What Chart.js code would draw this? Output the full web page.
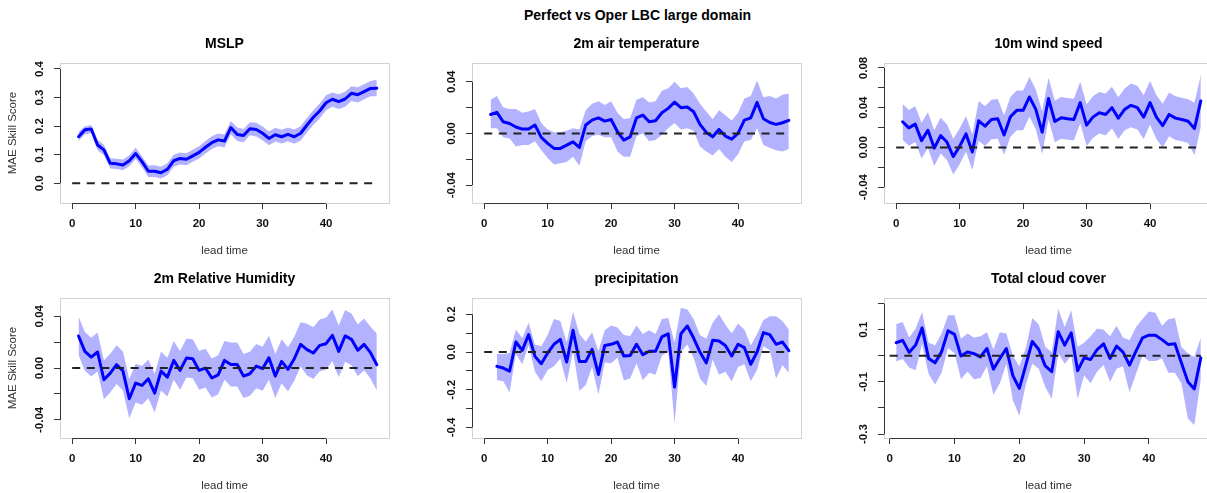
<!DOCTYPE html>
<html>
<head>
<meta charset="utf-8">
<title>Perfect vs Oper LBC large domain</title>
<script src="https://cdn.jsdelivr.net/npm/chart.js@4/dist/chart.umd.min.js"></script>
<style>
  html, body { margin: 0; padding: 0; background: #fff; overflow: hidden; }
  body { width: 1207px; height: 493px; position: relative; }
  #main-title {
    position: absolute; top: 7px; left: 0; width: 1275px; text-align: center;
    font: bold 14px "Liberation Sans", Arial, sans-serif; line-height: 16px; color: #000;
  }
  .panel { position: absolute; }
</style>
</head>
<body>
<div id="main-title">Perfect vs Oper LBC large domain</div>
<script>
// ---- data ----
const leadTime = [1,2,3,4,5,6,7,8,9,10,11,12,13,14,15,16,17,18,19,20,21,22,23,24,
                  25,26,27,28,29,30,31,32,33,34,35,36,37,38,39,40,41,42,43,44,45,46,47,48];
const precipTime = leadTime.slice(1);   // precipitation starts at lead time 2

const zeroLineX = [0, 48];
const zeroLineY = [0, 0];

const mslpMean  = [0.163,0.187,0.19,0.134,0.117,0.07,0.068,0.064,0.079,0.104,
                   0.076,0.042,0.042,0.037,0.049,0.079,0.087,0.084,0.096,0.108,
                   0.126,0.142,0.152,0.148,0.195,0.171,0.167,0.191,0.188,0.175,
                   0.157,0.17,0.163,0.171,0.163,0.175,0.204,0.231,0.253,0.282,
                   0.294,0.286,0.295,0.315,0.31,0.321,0.332,0.333];
const mslpUpper = [0.18,0.2,0.204,0.152,0.135,0.088,0.086,0.083,0.098,0.124,
                   0.095,0.062,0.063,0.058,0.07,0.1,0.108,0.105,0.117,0.13,
                   0.148,0.165,0.174,0.171,0.218,0.195,0.19,0.214,0.212,0.199,
                   0.181,0.194,0.187,0.195,0.188,0.2,0.229,0.256,0.279,0.308,
                   0.318,0.312,0.32,0.34,0.336,0.347,0.358,0.362];
const mslpLower = [0.148,0.172,0.175,0.116,0.098,0.052,0.05,0.046,0.06,0.085,
                   0.057,0.022,0.022,0.017,0.028,0.058,0.066,0.063,0.075,0.087,
                   0.104,0.12,0.13,0.126,0.172,0.148,0.144,0.168,0.164,0.151,
                   0.133,0.146,0.139,0.147,0.138,0.15,0.178,0.205,0.227,0.256,
                   0.268,0.26,0.268,0.288,0.283,0.294,0.305,0.305];

const t2mMean  = [0.0147,0.0163,0.009,0.0077,0.005,0.0034,0.0034,0.0065,-0.003,-0.0077,
                  -0.0116,-0.0116,-0.009,-0.0065,-0.0108,0.0065,0.0103,0.012,0.0095,0.0108,
                  0.0013,-0.0052,-0.0026,0.012,0.0142,0.009,0.0098,0.016,0.0194,0.0243,
                  0.0199,0.0204,0.0168,0.007,0.0008,-0.0026,0.0031,-0.002,-0.0044,0.0,
                  0.0103,0.012,0.024,0.0114,0.0085,0.007,0.0083,0.0101];
const t2mUpper = [0.026,0.029,0.020,0.019,0.019,0.016,0.017,0.019,0.008,0.003,
                  0.001,0.001,0.002,0.004,0.003,0.018,0.023,0.025,0.022,0.025,
                  0.016,0.011,0.012,0.026,0.028,0.024,0.025,0.033,0.035,0.040,
                  0.035,0.036,0.031,0.023,0.017,0.011,0.018,0.014,0.010,0.016,
                  0.027,0.029,0.041,0.028,0.029,0.027,0.030,0.031];
const t2mLower = [0.004,0.004,-0.003,-0.004,-0.010,-0.009,-0.009,-0.006,-0.013,-0.019,
                  -0.024,-0.023,-0.022,-0.018,-0.025,-0.006,-0.002,-0.001,-0.003,-0.003,
                  -0.014,-0.018,-0.018,-0.002,0.000,-0.006,-0.005,-0.001,0.004,0.008,
                  0.003,0.004,0.002,-0.010,-0.014,-0.017,-0.012,-0.018,-0.022,-0.016,
                  -0.006,-0.005,0.004,-0.009,-0.011,-0.013,-0.014,-0.012];

const ws10Mean  = [0.0258,0.0197,0.0234,0.0068,0.0173,-0.0007,0.0119,0.0054,-0.0092,0.001,
                   0.0136,-0.0047,0.0268,0.0214,0.0281,0.0288,0.0125,0.0308,0.0373,0.0373,
                   0.0508,0.0383,0.0153,0.0492,0.0261,0.0298,0.0288,0.0281,0.0451,0.0224,
                   0.0305,0.0349,0.0332,0.04,0.0295,0.0383,0.0424,0.04,0.0305,0.0451,
                   0.0305,0.022,0.0332,0.0295,0.0281,0.0264,0.019,0.0468];
const ws10Upper = [0.0438,0.0377,0.0414,0.0248,0.0353,0.0173,0.0299,0.0234,0.0088,0.019,
                   0.0316,0.0133,0.0468,0.0414,0.0481,0.0488,0.0325,0.0508,0.0573,0.0573,
                   0.0708,0.0583,0.0363,0.0702,0.0471,0.0508,0.0498,0.0491,0.0661,0.0434,
                   0.0515,0.0559,0.0542,0.061,0.0505,0.0593,0.0644,0.062,0.0525,0.0671,
                   0.0525,0.044,0.0552,0.0515,0.0501,0.0484,0.045,0.0728];
const ws10Lower = [0.0078,0.0017,0.0054,-0.0112,-0.0007,-0.0187,-0.0061,-0.0126,-0.0272,-0.017,
                   -0.0044,-0.0227,0.0068,0.0014,0.0081,0.0088,-0.0075,0.0108,0.0173,0.0173,
                   0.0308,0.0183,-0.0067,0.0282,0.0051,0.0088,0.0078,0.0071,0.0241,0.0014,
                   0.0095,0.0139,0.0122,0.019,0.0085,0.0173,0.0204,0.018,0.0085,0.0231,
                   0.0085,0.0,0.0112,0.0075,0.0061,0.0044,-0.008,0.0208];

const rh2mMean  = [0.0248,0.0129,0.0085,0.0124,-0.009,-0.0039,0.0026,-0.0023,-0.0237,-0.0116,
                   -0.0134,-0.0083,-0.0194,-0.0023,-0.007,0.0059,-0.0018,0.0077,0.0072,-0.0018,
                   0.0,-0.0077,-0.0052,0.0059,0.0028,0.0028,-0.0062,-0.0044,0.0015,-0.0005,
                   0.008,-0.0062,0.0052,-0.001,0.0072,0.0183,0.0142,0.0116,0.0175,0.0188,
                   0.0253,0.0129,0.0248,0.0222,0.0137,0.0183,0.0119,0.0026];
const rh2mUpper = [0.0398,0.0279,0.0235,0.0274,0.006,0.0111,0.0176,0.0127,-0.0087,0.0034,
                   0.0016,0.0067,-0.0044,0.0127,0.008,0.0209,0.0132,0.0227,0.0222,0.0132,
                   0.015,0.0073,0.0098,0.0209,0.0198,0.0198,0.0108,0.0126,0.0185,0.0165,
                   0.025,0.0108,0.0222,0.016,0.0242,0.0353,0.0342,0.0316,0.0375,0.0388,
                   0.0453,0.0329,0.0448,0.0422,0.0337,0.0383,0.0319,0.0266];
const rh2mLower = [0.0098,-0.0021,-0.0065,-0.0026,-0.024,-0.0189,-0.0124,-0.0173,-0.0387,-0.0266,
                   -0.0284,-0.0233,-0.0344,-0.0173,-0.022,-0.0091,-0.0168,-0.0073,-0.0078,-0.0168,
                   -0.015,-0.0227,-0.0202,-0.0091,-0.0142,-0.0142,-0.0232,-0.0214,-0.0155,-0.0175,
                   -0.009,-0.0232,-0.0118,-0.018,-0.0098,0.0013,-0.0058,-0.0084,-0.0025,-0.0012,
                   0.0053,-0.0071,0.0048,0.0022,-0.0063,-0.0017,-0.0081,-0.0174];

const precipMean  = [-0.076,-0.085,-0.101,0.053,0.009,0.092,-0.023,-0.062,-0.005,0.041,
                     0.067,-0.053,0.115,-0.05,-0.05,0.014,-0.119,0.035,0.041,0.053,
                     -0.021,-0.018,0.041,-0.014,0.004,0.004,0.08,0.096,-0.186,0.097,
                     0.138,0.074,0.0,-0.058,0.062,0.058,0.035,-0.021,0.041,0.023,
                     -0.065,0.0,0.103,0.092,0.041,0.053,0.007];
const precipUpper = [-0.01,-0.01,-0.005,0.12,0.075,0.155,0.04,0.03,0.09,0.175,
                     0.165,0.05,0.215,0.095,0.055,0.105,0.005,0.115,0.14,0.13,
                     0.09,0.085,0.14,0.095,0.115,0.095,0.175,0.18,0.05,0.235,
                     0.225,0.175,0.09,0.07,0.155,0.2,0.145,0.1,0.15,0.12,
                     0.035,0.095,0.17,0.19,0.19,0.165,0.12];
const precipLower = [-0.15,-0.155,-0.215,-0.01,-0.065,0.035,-0.105,-0.155,-0.095,-0.075,
                     -0.035,-0.165,0.005,-0.205,-0.175,-0.08,-0.225,-0.055,-0.06,-0.03,
                     -0.15,-0.14,-0.06,-0.15,-0.11,-0.12,-0.02,0.005,-0.38,0.0,
                     0.04,-0.03,-0.14,-0.18,-0.04,-0.12,-0.105,-0.155,-0.08,-0.065,
                     -0.155,-0.095,0.03,0.01,-0.14,-0.07,-0.11];

const tccMean  = [0.05,0.059,0.013,0.041,0.107,-0.01,-0.027,0.015,0.096,0.082,
                  -0.001,0.015,0.008,-0.004,0.028,-0.051,-0.01,0.028,-0.076,-0.125,
                  -0.036,0.055,0.024,-0.039,-0.061,0.092,0.041,0.088,-0.057,-0.008,
                  -0.014,0.024,0.046,-0.01,0.037,0.014,-0.036,0.018,0.069,0.079,
                  0.079,0.062,0.043,0.046,-0.027,-0.099,-0.127,-0.008];
const tccUpper = [0.122,0.13,0.07,0.105,0.168,0.05,0.04,0.085,0.155,0.155,
                  0.065,0.085,0.07,0.075,0.09,0.025,0.09,0.085,0.0,-0.04,
                  0.03,0.145,0.12,0.035,0.015,0.18,0.11,0.175,0.035,0.05,
                  0.075,0.105,0.1,0.075,0.115,0.07,0.06,0.11,0.14,0.17,
                  0.165,0.115,0.14,0.145,0.035,0.01,-0.005,0.07];
const tccLower = [-0.022,-0.012,-0.045,-0.055,0.045,-0.07,-0.11,-0.065,0.03,0.01,
                  -0.09,-0.06,-0.09,-0.085,-0.04,-0.15,-0.105,-0.03,-0.17,-0.23,
                  -0.11,-0.03,-0.05,-0.12,-0.165,0.01,-0.03,0.0,-0.165,-0.075,
                  -0.105,-0.06,-0.035,-0.1,-0.05,-0.04,-0.14,-0.07,0.0,-0.02,
                  -0.02,-0.01,-0.065,-0.065,-0.105,-0.24,-0.265,-0.09];

// tick values and labels
const xTicks = [0, 10, 20, 30, 40];
const xTickLabels = ['0', '10', '20', '30', '40'];
const mslpTicks = [0, 0.1, 0.2, 0.3, 0.4];
const mslpTickLabels = ['0.0', '0.1', '0.2', '0.3', '0.4'];
const t2mTicks = [-0.04, -0.02, 0, 0.02, 0.04];
const t2mTickLabels = ['-0.04', '', '0.00', '', '0.04'];
const ws10Ticks = [-0.04, -0.02, 0, 0.02, 0.04, 0.06, 0.08];
const ws10TickLabels = ['-0.04', '', '0.00', '', '0.04', '', '0.08'];
const rh2mTicks = [-0.04, -0.02, 0, 0.02, 0.04];
const rh2mTickLabels = ['-0.04', '', '0.00', '', '0.04'];
const precipTicks = [-0.4, -0.3, -0.2, -0.1, 0, 0.1, 0.2];
const precipTickLabels = ['-0.4', '', '-0.2', '', '0.0', '', '0.2'];
const tccTicks = [-0.3, -0.2, -0.1, 0, 0.1, 0.2];
const tccTickLabels = ['-0.3', '', '-0.1', '', '0.1', ''];

// ---- layout ----
const FONT = '"Liberation Sans", Arial, Helvetica, sans-serif';
const colLeft = [60, 472, 884];
const rowTop = [63, 298];
const plotW = 329, plotH = 140;
const axisW = 60, titleH = 33, xAxisH = 59, padRight = 5;

const panels = [
  {title: 'MSLP', row: 0, col: 0, x: leadTime, mean: mslpMean, upper: mslpUpper, lower: mslpLower,
   yTicks: mslpTicks, yLabels: mslpTickLabels, yMin: -0.069, yMax: 0.421, xMin: -1.92, xMax: 49.92, yTitle: true},
  {title: '2m air temperature', row: 0, col: 1, x: leadTime, mean: t2mMean, upper: t2mUpper, lower: t2mLower,
   yTicks: t2mTicks, yLabels: t2mTickLabels, yMin: -0.0538, yMax: 0.0545, xMin: -1.92, xMax: 49.92},
  {title: '10m wind speed', row: 0, col: 2, x: leadTime, mean: ws10Mean, upper: ws10Upper, lower: ws10Lower,
   yTicks: ws10Ticks, yLabels: ws10TickLabels, yMin: -0.056, yMax: 0.085, xMin: -1.92, xMax: 49.92},
  {title: '2m Relative Humidity', row: 1, col: 0, x: leadTime, mean: rh2mMean, upper: rh2mUpper, lower: rh2mLower,
   yTicks: rh2mTicks, yLabels: rh2mTickLabels, yMin: -0.054, yMax: 0.0541, xMin: -1.92, xMax: 49.92, yTitle: true},
  {title: 'precipitation', row: 1, col: 1, x: precipTime, mean: precipMean, upper: precipUpper, lower: precipLower,
   yTicks: precipTicks, yLabels: precipTickLabels, yMin: -0.456, yMax: 0.2865, xMin: -1.92, xMax: 49.92},
  {title: 'Total cloud cover', row: 1, col: 2, x: leadTime, mean: tccMean, upper: tccUpper, lower: tccLower,
   yTicks: tccTicks, yLabels: tccTickLabels, yMin: -0.315, yMax: 0.2215, xMin: -0.88, xMax: 49.88}
];

// light grey plot box plus R-style axis lines running first tick to last tick
const rFrame = {
  id: 'rFrame',
  beforeDatasetsDraw(chart) {
    const {ctx, chartArea: a} = chart;
    ctx.save();
    ctx.lineWidth = 1;
    ctx.strokeStyle = '#d2d2d2';
    ctx.strokeRect(Math.round(a.left) + 0.5, Math.round(a.top) + 0.5, Math.round(a.width), Math.round(a.height));
    ctx.restore();
  },
  afterDraw(chart) {
    const {ctx, chartArea: a, scales: {x, y}} = chart;
    const xt = x.ticks, yt = y.ticks;
    const by = Math.round(a.bottom) + 0.5, lx = Math.round(a.left) + 0.5;
    ctx.save();
    ctx.lineWidth = 1;
    ctx.strokeStyle = '#333';
    ctx.beginPath();
    ctx.moveTo(x.getPixelForValue(xt[0].value), by);
    ctx.lineTo(x.getPixelForValue(xt[xt.length - 1].value), by);
    ctx.moveTo(lx, y.getPixelForValue(yt[0].value));
    ctx.lineTo(lx, y.getPixelForValue(yt[yt.length - 1].value));
    ctx.stroke();
    ctx.restore();
  }
};

const measureCtx = document.createElement('canvas').getContext('2d');
function yLabelPad(labels) {
  measureCtx.font = 'bold 11.5px ' + FONT;
  const w = Math.max(...labels.map(l => measureCtx.measureText(l).width));
  return 14.5 - w / 2;
}

const pts = (xs, ys) => ys.map((v, i) => ({x: xs[i], y: v}));

function makePanel(p) {
  const wrap = document.createElement('div');
  wrap.className = 'panel';
  wrap.style.left = (colLeft[p.col] - axisW) + 'px';
  wrap.style.top = (rowTop[p.row] - titleH) + 'px';
  const canvas = document.createElement('canvas');
  canvas.width = axisW + plotW + padRight;
  canvas.height = titleH + plotH + xAxisH;
  wrap.appendChild(canvas);
  document.body.appendChild(wrap);

  const tickFont = {family: FONT, size: 11.5, weight: 'bold'};
  const labelFont = {family: FONT, size: 11.5, weight: 'normal'};

  return new Chart(canvas, {
    type: 'line',
    data: {
      datasets: [
        {data: pts(zeroLineX, zeroLineY), borderColor: '#222', borderWidth: 2, borderDash: [8, 6.6],
         pointRadius: 0, fill: false},
        {data: pts(p.x, p.mean), borderColor: '#0000ff', borderWidth: 3, pointRadius: 0, fill: false,
         borderJoinStyle: 'round', borderCapStyle: 'round'},
        {data: pts(p.x, p.lower), borderColor: 'transparent', borderWidth: 0, pointRadius: 0, fill: false},
        {data: pts(p.x, p.upper), borderColor: 'transparent', borderWidth: 0, pointRadius: 0,
         fill: '-1', backgroundColor: 'rgba(0, 0, 255, 0.3)'}
      ]
    },
    options: {
      responsive: false,
      animation: false,
      events: [],
      layout: {padding: {left: 0, right: padRight, top: 0, bottom: 0}},
      plugins: {
        legend: {display: false},
        tooltip: {enabled: false},
        title: {
          display: true, text: p.title, fullSize: false, color: '#000',
          font: {family: FONT, size: 14, weight: 'bold'},
          padding: {top: 5.3, bottom: 10.9}
        }
      },
      scales: {
        x: {
          type: 'linear', bounds: 'data', min: p.xMin, max: p.xMax,
          afterFit: s => { s.height = xAxisH; },
          afterBuildTicks: s => { s.ticks = xTicks.map(v => ({value: v})); },
          grid: {drawOnChartArea: false, drawTicks: true, tickLength: 6, tickColor: '#333'},
          border: {display: false},
          ticks: {autoSkip: false, maxRotation: 0, padding: 8.4, color: '#111', font: tickFont,
                  callback: (v, i) => xTickLabels[i]},
          title: {display: true, text: 'lead time', color: '#333', font: labelFont,
                  padding: {top: 0, bottom: 4.4}}
        },
        y: {
          type: 'linear', bounds: 'data', min: p.yMin, max: p.yMax,
          afterFit: s => { s.width = axisW; },
          afterBuildTicks: s => { s.ticks = p.yTicks.map(v => ({value: v})); },
          grid: {drawOnChartArea: false, drawTicks: true, tickLength: 6, tickColor: '#333'},
          border: {display: false},
          ticks: {autoSkip: false, minRotation: 90, maxRotation: 90, crossAlign: 'center',
                  padding: yLabelPad(p.yLabels), color: '#111', font: tickFont,
                  callback: (v, i) => p.yLabels[i]},
          title: {display: !!p.yTitle, text: 'MAE Skill Score', color: '#333', font: labelFont,
                  padding: {top: 6.4, bottom: 0}}
        }
      }
    },
    plugins: [rFrame]
  });
}

panels.forEach(makePanel);
</script>
</body>
</html>
